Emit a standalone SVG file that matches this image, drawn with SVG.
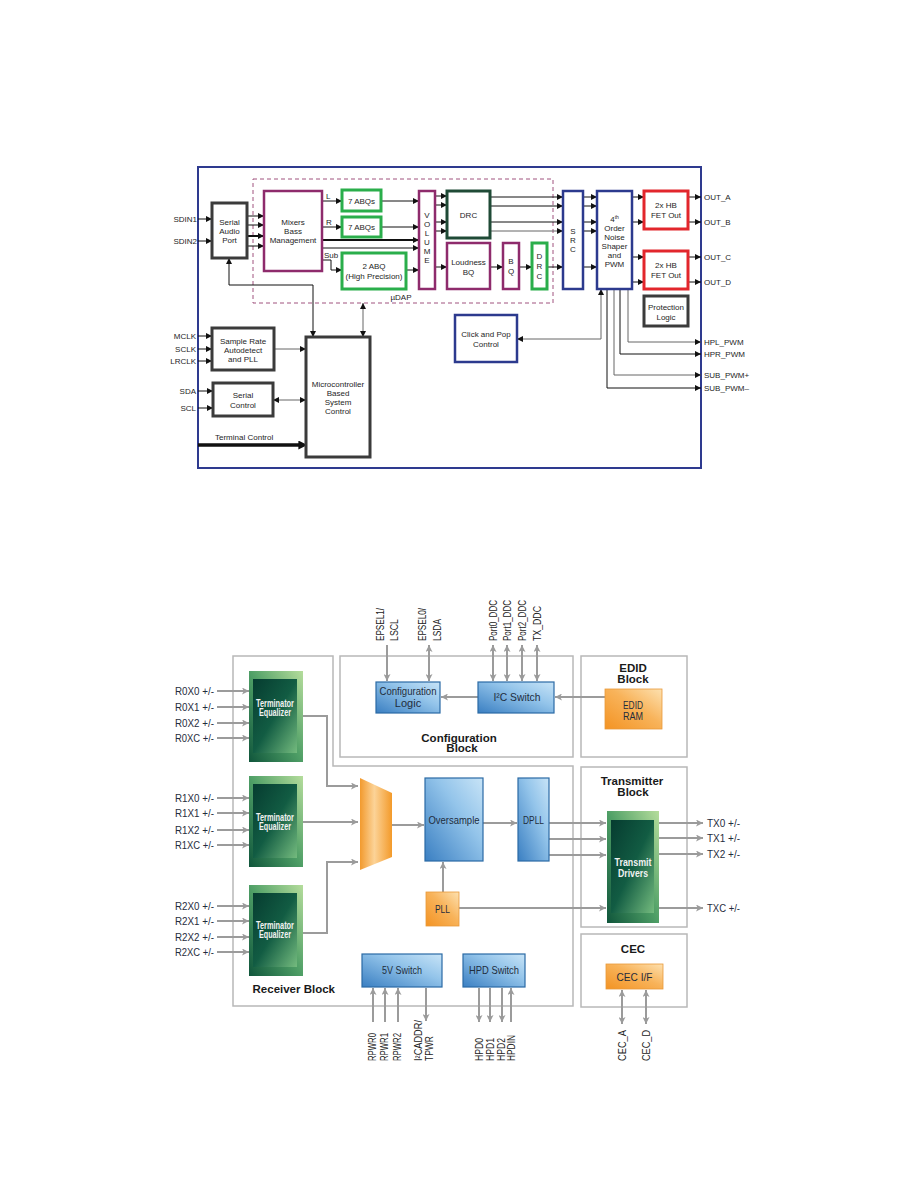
<svg xmlns="http://www.w3.org/2000/svg" width="918" height="1188" viewBox="0 0 918 1188">
<defs>
<style>
.t{font-family:"Liberation Sans",Arial,sans-serif;font-size:8px;fill:#1e1e1e}
.m{text-anchor:middle}
.r{text-anchor:end}
.pur{fill:#fff;stroke:#8e2b6c;stroke-width:2.5}
.grn{fill:#fff;stroke:#2aae4b;stroke-width:3}
.dgr{fill:#fff;stroke:#1f4a36;stroke-width:3}
.blu{fill:#fff;stroke:#2c3a8e;stroke-width:2.5}
.red{fill:#fff;stroke:#e2262c;stroke-width:3}
.gry{fill:#fff;stroke:#3b3b3b;stroke-width:3}
.ln{fill:none;stroke:#111;stroke-width:1}
.ln2{fill:none;stroke:#111;stroke-width:2}
.lg{fill:none;stroke:#666;stroke-width:1}
.a{marker-end:url(#k)}
.aa{marker-start:url(#k);marker-end:url(#k)}
.ol{fill:none;stroke:#b8b8b8;stroke-width:1.5}
.gl{fill:none;stroke:#9b9b9b;stroke-width:2}
.ga{marker-end:url(#g)}
.gaa{marker-start:url(#g);marker-end:url(#g)}
.n{font-family:"Liberation Sans",Arial,sans-serif;font-size:11px;fill:#1f2d3d}
.p{font-family:"Liberation Sans",Arial,sans-serif;font-size:10px;fill:#222}
.b{font-family:"Liberation Sans",Arial,sans-serif;font-size:11.5px;font-weight:bold;fill:#1a1a1a}
.w{font-family:"Liberation Sans",Arial,sans-serif;font-size:10px;font-weight:bold;fill:#f2f2f2}
.bb{fill:url(#blueG);stroke:#2b6aa5;stroke-width:1.2}
.ob{fill:url(#orG);stroke:#e89a3a;stroke-width:0.8}
</style>
<marker id="k" viewBox="0 0 10 10" refX="10" refY="5" markerWidth="6" markerHeight="6" markerUnits="userSpaceOnUse" orient="auto-start-reverse"><path d="M0,0 L10,5 L0,10 z" fill="#111"/></marker>
<marker id="kb" viewBox="0 0 10 10" refX="4" refY="5" markerWidth="10" markerHeight="9" markerUnits="userSpaceOnUse" orient="auto"><path d="M0,0 L10,5 L0,10 z" fill="#111"/></marker>
<marker id="g" viewBox="0 0 10 10" refX="10" refY="5" markerWidth="10" markerHeight="7" markerUnits="userSpaceOnUse" orient="auto-start-reverse"><path d="M0,0 L10,5 L0,10 L2.5,5 z" fill="#9b9b9b"/></marker>
<linearGradient id="blueG" x1="0" y1="1" x2="1" y2="0"><stop offset="0" stop-color="#3a7fc2"/><stop offset="0.6" stop-color="#93c4ea"/><stop offset="1" stop-color="#c8e4f7"/></linearGradient>
<linearGradient id="orG" x1="0" y1="1" x2="1" y2="0"><stop offset="0" stop-color="#f39323"/><stop offset="0.55" stop-color="#f8b35a"/><stop offset="1" stop-color="#fde1b0"/></linearGradient>
<linearGradient id="muxG" x1="0" y1="0" x2="1" y2="0"><stop offset="0" stop-color="#f29a2e"/><stop offset="0.45" stop-color="#fcd397"/><stop offset="1" stop-color="#f39a2a"/></linearGradient>
<linearGradient id="grnO" x1="1" y1="0" x2="0" y2="1"><stop offset="0" stop-color="#b5dd9c"/><stop offset="0.5" stop-color="#4f9f66"/><stop offset="1" stop-color="#0f553b"/></linearGradient>
<linearGradient id="grnI" x1="0" y1="0" x2="1" y2="1"><stop offset="0" stop-color="#063c30"/><stop offset="0.5" stop-color="#125c43"/><stop offset="1" stop-color="#74bb7e"/></linearGradient>
</defs>
<rect width="918" height="1188" fill="#fff"/>

<!-- ================= TOP DIAGRAM ================= -->
<g id="frame-top">
<rect x="198" y="167" width="503" height="301" fill="none" stroke="#2e3a8f" stroke-width="2"/>
<rect x="253" y="179" width="300" height="124" fill="none" stroke="#a0527f" stroke-width="1" stroke-dasharray="4,3"/>
<text class="t m" x="401" y="300">µDAP</text>
</g>

<g id="top-connectors">
<path class="ln a" d="M198,219H212"/>
<path class="ln a" d="M198,241H212"/>
<path class="ln a" d="M247,216H264"/>
<path class="ln a" d="M247,225H264"/>
<path class="ln2 a" d="M247,236H264"/>
<path class="ln a" d="M247,246H264"/>
<path class="ln a" d="M322,201H342"/>
<path class="ln a" d="M322,227H342"/>
<path class="ln a" d="M322,260H331V270H342"/>
<path class="ln2 a" d="M322,240H419"/>
<path class="ln a" d="M322,248H419"/>
<path class="ln a" d="M381,201H419"/>
<path class="ln a" d="M381,227H419"/>
<path class="ln a" d="M406,270H419"/>
<path class="ln a" d="M435,196H447"/>
<path class="ln a" d="M435,205H447"/>
<path class="ln a" d="M435,222H447"/>
<path class="ln a" d="M435,231H447"/>
<path class="ln a" d="M435,267H447"/>
<path class="ln a" d="M490,197H563"/>
<path class="ln a" d="M490,206H563"/>
<path class="ln a" d="M490,222H563"/>
<path class="lg a" d="M490,231H563"/>
<path class="ln a" d="M490,267H503"/>
<path class="ln a" d="M519,267H532"/>
<path class="ln a" d="M547,267H563"/>
<path class="ln a" d="M583,197H597"/>
<path class="ln a" d="M583,206H597"/>
<path class="ln a" d="M583,222H597"/>
<path class="ln a" d="M583,231H597"/>
<path class="ln a" d="M583,267H597"/>
<path class="ln a" d="M632,197H644"/>
<path class="ln a" d="M632,222H644"/>
<path class="ln a" d="M632,257H644"/>
<path class="ln a" d="M632,282H644"/>
<path class="ln a" d="M688,197H701"/>
<path class="ln a" d="M688,222H701"/>
<path class="ln a" d="M688,257H701"/>
<path class="ln a" d="M688,282H701"/>
<path class="lg aa" d="M517,339H601V289"/>
<path class="lg a" d="M628,289V342H701"/>
<path class="ln a" d="M620,289V354H701"/>
<path class="lg a" d="M614,289V375H701"/>
<path class="ln a" d="M607,289V388H701"/>
<path class="ln aa" d="M313,337V285H229V258"/>
<path class="lg aa" d="M363,303V337"/>
<path class="ln a" d="M198,336H212"/>
<path class="ln a" d="M198,349H212"/>
<path class="ln a" d="M198,361H212"/>
<path class="lg a" d="M274,349H306"/>
<path class="ln a" d="M198,391H213"/>
<path class="ln a" d="M198,408H213"/>
<path class="lg aa" d="M273,400H306"/>
<path d="M198,445H302" fill="none" stroke="#111" stroke-width="3.5" marker-end="url(#kb)"/>
</g>

<g id="top-labels">
<text class="t r" x="197" y="222">SDIN1</text>
<text class="t r" x="197" y="244">SDIN2</text>
<text class="t" x="326" y="199">L</text>
<text class="t" x="326" y="225">R</text>
<text class="t" x="324" y="258">Sub</text>
<text class="t r" x="196" y="339">MCLK</text>
<text class="t r" x="196" y="352">SCLK</text>
<text class="t r" x="196" y="364">LRCLK</text>
<text class="t r" x="196" y="394">SDA</text>
<text class="t r" x="196" y="411">SCL</text>
<text class="t" x="215" y="440">Terminal Control</text>
<text class="t" x="704" y="200">OUT_A</text>
<text class="t" x="704" y="225">OUT_B</text>
<text class="t" x="704" y="260">OUT_C</text>
<text class="t" x="704" y="285">OUT_D</text>
<text class="t" x="704" y="345">HPL_PWM</text>
<text class="t" x="704" y="357">HPR_PWM</text>
<text class="t" x="704" y="378">SUB_PWM+</text>
<text class="t" x="704" y="391">SUB_PWM–</text>
</g>

<g id="sap"><rect class="gry" x="212" y="203" width="35" height="55"/><text class="t m" x="229.5" y="225">Serial</text><text class="t m" x="229.5" y="234">Audio</text><text class="t m" x="229.5" y="243">Port</text></g>
<g id="mixers"><rect class="pur" x="264" y="191" width="58" height="80"/><text class="t m" x="293" y="225">Mixers</text><text class="t m" x="293" y="234">Bass</text><text class="t m" x="293" y="243">Management</text></g>
<g id="abq1"><rect class="grn" x="342" y="190" width="39" height="21"/><text class="t m" x="361.5" y="204">7 ABQs</text></g>
<g id="abq2"><rect class="grn" x="342" y="217" width="39" height="20"/><text class="t m" x="361.5" y="230">7 ABQs</text></g>
<g id="abq3"><rect class="grn" x="342" y="253" width="64" height="36"/><text class="t m" x="374" y="269">2 ABQ</text><text class="t m" x="374" y="279">(High Precision)</text></g>
<g id="volume"><rect class="pur" x="419" y="191" width="16" height="98"/>
<text class="t m" x="427" y="218">V</text><text class="t m" x="427" y="227">O</text><text class="t m" x="427" y="236">L</text><text class="t m" x="427" y="245">U</text><text class="t m" x="427" y="254">M</text><text class="t m" x="427" y="263">E</text></g>
<g id="drc"><rect class="dgr" x="447" y="191" width="43" height="47"/><text class="t m" x="468.5" y="218">DRC</text></g>
<g id="loudness"><rect class="pur" x="447" y="243" width="43" height="46"/><text class="t m" x="468.5" y="265">Loudness</text><text class="t m" x="468.5" y="275">BQ</text></g>
<g id="bq"><rect class="pur" x="503" y="243" width="16" height="46"/><text class="t m" x="511" y="264">B</text><text class="t m" x="511" y="274">Q</text></g>
<g id="drc2"><rect class="grn" x="532" y="243" width="15" height="46"/><text class="t m" x="539.5" y="259">D</text><text class="t m" x="539.5" y="269">R</text><text class="t m" x="539.5" y="279">C</text></g>
<g id="src"><rect class="blu" x="563" y="191" width="20" height="98"/><text class="t m" x="573" y="234">S</text><text class="t m" x="573" y="243">R</text><text class="t m" x="573" y="252">C</text></g>
<g id="noise"><rect class="blu" x="597" y="191" width="35" height="98"/>
<text class="t m" x="614.5" y="222">4<tspan font-size="5" dy="-3">th</tspan></text>
<text class="t m" x="614.5" y="231">Order</text><text class="t m" x="614.5" y="240">Noise</text><text class="t m" x="614.5" y="249">Shaper</text><text class="t m" x="614.5" y="258">and</text><text class="t m" x="614.5" y="267">PWM</text></g>
<g id="fet1"><rect class="red" x="644" y="191" width="44" height="38"/><text class="t m" x="666" y="208">2x HB</text><text class="t m" x="666" y="218">FET Out</text></g>
<g id="fet2"><rect class="red" x="644" y="251" width="44" height="38"/><text class="t m" x="666" y="268">2x HB</text><text class="t m" x="666" y="278">FET Out</text></g>
<g id="protection"><rect class="gry" x="644" y="296" width="44" height="30"/><text class="t m" x="666" y="310">Protection</text><text class="t m" x="666" y="320">Logic</text></g>
<g id="clickpop"><rect class="blu" x="455" y="315" width="62" height="47"/><text class="t m" x="486" y="337">Click and Pop</text><text class="t m" x="486" y="347">Control</text></g>
<g id="samplerate"><rect class="gry" x="212" y="328" width="62" height="42"/><text class="t m" x="243" y="344">Sample Rate</text><text class="t m" x="243" y="353">Autodetect</text><text class="t m" x="243" y="362">and PLL</text></g>
<g id="serialctl"><rect class="gry" x="213" y="383" width="60" height="33"/><text class="t m" x="243" y="398">Serial</text><text class="t m" x="243" y="408">Control</text></g>
<g id="mcu"><rect class="gry" x="306" y="337" width="64" height="120"/><text class="t m" x="338" y="387">Microcontroller</text><text class="t m" x="338" y="396">Based</text><text class="t m" x="338" y="405">System</text><text class="t m" x="338" y="414">Control</text></g>

<!-- ================= BOTTOM DIAGRAM ================= -->
<g id="blocks">
<path class="ol" d="M233,656H333V766H573V1006H233Z"/>
<rect class="ol" x="340" y="656" width="233" height="101"/>
<rect class="ol" x="581" y="656" width="106" height="101"/>
<rect class="ol" x="581" y="767" width="106" height="160"/>
<rect class="ol" x="581" y="934" width="106" height="73"/>
<text class="b m" x="459" y="742">Configuration</text>
<text class="b m" x="462" y="752">Block</text>
<text class="b m" x="633" y="672">EDID</text>
<text class="b m" x="633" y="683">Block</text>
<text class="b m" x="632" y="785">Transmitter</text>
<text class="b m" x="633" y="796">Block</text>
<text class="b m" x="633" y="953">CEC</text>
<text class="b r" x="335" y="993">Receiver Block</text>
</g>

<g id="bottom-connectors">
<path class="gl ga" d="M217,691H249"/>
<path class="gl ga" d="M217,707H249"/>
<path class="gl ga" d="M217,723H249"/>
<path class="gl ga" d="M217,738H249"/>
<path class="gl ga" d="M217,798H249"/>
<path class="gl ga" d="M217,813H249"/>
<path class="gl ga" d="M217,830H249"/>
<path class="gl ga" d="M217,845H249"/>
<path class="gl ga" d="M217,906H249"/>
<path class="gl ga" d="M217,921H249"/>
<path class="gl ga" d="M217,937H249"/>
<path class="gl ga" d="M217,952H249"/>
<path class="gl ga" d="M303,716H327V786H358"/>
<path class="gl ga" d="M303,822H358"/>
<path class="gl ga" d="M303,933H327V862H358"/>
<path class="gl ga" d="M392,825H424"/>
<path class="gl ga" d="M483,823H517"/>
<path class="gl ga" d="M549,823H606"/>
<path class="gl ga" d="M549,839H606"/>
<path class="gl ga" d="M549,855H606"/>
<path class="gl ga" d="M443,892V862"/>
<path class="gl ga" d="M459,908H606"/>
<path class="gl ga" d="M659,823H703"/>
<path class="gl ga" d="M659,838H703"/>
<path class="gl ga" d="M659,854H703"/>
<path class="gl ga" d="M659,908H703"/>
<path class="gl ga" d="M605,697H555"/>
<path class="gl ga" d="M478,697H441"/>
<path class="gl ga" d="M387,645V681"/>
<path class="gl gaa" d="M429,645V681"/>
<path class="gl gaa" d="M493,645V681"/>
<path class="gl gaa" d="M507,645V681"/>
<path class="gl gaa" d="M522,645V681"/>
<path class="gl gaa" d="M537,645V681"/>
<path class="gl ga" d="M373,1022V988"/>
<path class="gl ga" d="M385,1022V988"/>
<path class="gl ga" d="M398,1022V988"/>
<path class="gl ga" d="M426,988V1021"/>
<path class="gl ga" d="M479,988V1022"/>
<path class="gl ga" d="M490,988V1022"/>
<path class="gl ga" d="M502,988V1022"/>
<path class="gl ga" d="M511,1022V988"/>
<path class="gl gaa" d="M622,990V1024"/>
<path class="gl gaa" d="M646,990V1024"/>
</g>

<g id="pin-labels">
<text class="n" x="175" y="695" textLength="39" lengthAdjust="spacingAndGlyphs">R0X0 +/-</text>
<text class="n" x="175" y="711" textLength="39" lengthAdjust="spacingAndGlyphs">R0X1 +/-</text>
<text class="n" x="175" y="727" textLength="39" lengthAdjust="spacingAndGlyphs">R0X2 +/-</text>
<text class="n" x="175" y="742" textLength="39" lengthAdjust="spacingAndGlyphs">R0XC +/-</text>
<text class="n" x="175" y="802" textLength="39" lengthAdjust="spacingAndGlyphs">R1X0 +/-</text>
<text class="n" x="175" y="817" textLength="39" lengthAdjust="spacingAndGlyphs">R1X1 +/-</text>
<text class="n" x="175" y="834" textLength="39" lengthAdjust="spacingAndGlyphs">R1X2 +/-</text>
<text class="n" x="175" y="849" textLength="39" lengthAdjust="spacingAndGlyphs">R1XC +/-</text>
<text class="n" x="175" y="910" textLength="39" lengthAdjust="spacingAndGlyphs">R2X0 +/-</text>
<text class="n" x="175" y="925" textLength="39" lengthAdjust="spacingAndGlyphs">R2X1 +/-</text>
<text class="n" x="175" y="941" textLength="39" lengthAdjust="spacingAndGlyphs">R2X2 +/-</text>
<text class="n" x="175" y="956" textLength="39" lengthAdjust="spacingAndGlyphs">R2XC +/-</text>
<text class="n" x="707" y="827" textLength="33" lengthAdjust="spacingAndGlyphs">TX0 +/-</text>
<text class="n" x="707" y="842" textLength="33" lengthAdjust="spacingAndGlyphs">TX1 +/-</text>
<text class="n" x="707" y="858" textLength="33" lengthAdjust="spacingAndGlyphs">TX2 +/-</text>
<text class="n" x="707" y="912" textLength="33" lengthAdjust="spacingAndGlyphs">TXC +/-</text>
<text class="p" transform="translate(384,641) rotate(-90)" textLength="33" lengthAdjust="spacingAndGlyphs">EPSEL1/</text>
<text class="p" transform="translate(398,641) rotate(-90)" textLength="22" lengthAdjust="spacingAndGlyphs">LSCL</text>
<text class="p" transform="translate(426,641) rotate(-90)" textLength="33" lengthAdjust="spacingAndGlyphs">EPSEL0/</text>
<text class="p" transform="translate(441,641) rotate(-90)" textLength="22" lengthAdjust="spacingAndGlyphs">LSDA</text>
<text class="p" transform="translate(497,641) rotate(-90)" textLength="41" lengthAdjust="spacingAndGlyphs">Port0_DDC</text>
<text class="p" transform="translate(511,641) rotate(-90)" textLength="41" lengthAdjust="spacingAndGlyphs">Port1_DDC</text>
<text class="p" transform="translate(526,641) rotate(-90)" textLength="41" lengthAdjust="spacingAndGlyphs">Port2_DDC</text>
<text class="p" transform="translate(541,641) rotate(-90)" textLength="35" lengthAdjust="spacingAndGlyphs">TX_DDC</text>
<text class="p" transform="translate(376,1061) rotate(-90)" textLength="28" lengthAdjust="spacingAndGlyphs">RPWR0</text>
<text class="p" transform="translate(388,1061) rotate(-90)" textLength="28" lengthAdjust="spacingAndGlyphs">RPWR1</text>
<text class="p" transform="translate(401,1061) rotate(-90)" textLength="28" lengthAdjust="spacingAndGlyphs">RPWR2</text>
<text class="p" transform="translate(422,1061) rotate(-90)" textLength="41" lengthAdjust="spacingAndGlyphs">I²CADDR/</text>
<text class="p" transform="translate(433,1061) rotate(-90)" textLength="25" lengthAdjust="spacingAndGlyphs">TPWR</text>
<text class="p" transform="translate(483,1061) rotate(-90)" textLength="23" lengthAdjust="spacingAndGlyphs">HPD0</text>
<text class="p" transform="translate(494,1061) rotate(-90)" textLength="23" lengthAdjust="spacingAndGlyphs">HPD1</text>
<text class="p" transform="translate(505,1061) rotate(-90)" textLength="23" lengthAdjust="spacingAndGlyphs">HPD2</text>
<text class="p" transform="translate(515,1061) rotate(-90)" textLength="26" lengthAdjust="spacingAndGlyphs">HPDIN</text>
<text class="p" transform="translate(626,1061) rotate(-90)" textLength="31" lengthAdjust="spacingAndGlyphs">CEC_A</text>
<text class="p" transform="translate(650,1061) rotate(-90)" textLength="31" lengthAdjust="spacingAndGlyphs">CEC_D</text>
</g>

<g id="term-eq-0"><rect x="249" y="671" width="54" height="91" fill="url(#grnO)"/><rect x="253" y="679" width="44" height="74" fill="url(#grnI)"/><text class="w m" x="275" y="707" textLength="38" lengthAdjust="spacingAndGlyphs">Terminator</text><text class="w m" x="275" y="716" textLength="32" lengthAdjust="spacingAndGlyphs">Equalizer</text></g>
<g id="term-eq-1"><rect x="249" y="776" width="54" height="91" fill="url(#grnO)"/><rect x="253" y="784" width="44" height="74" fill="url(#grnI)"/><text class="w m" x="275" y="821" textLength="38" lengthAdjust="spacingAndGlyphs">Terminator</text><text class="w m" x="275" y="830" textLength="32" lengthAdjust="spacingAndGlyphs">Equalizer</text></g>
<g id="term-eq-2"><rect x="249" y="885" width="54" height="91" fill="url(#grnO)"/><rect x="253" y="893" width="44" height="74" fill="url(#grnI)"/><text class="w m" x="275" y="929" textLength="38" lengthAdjust="spacingAndGlyphs">Terminator</text><text class="w m" x="275" y="938" textLength="32" lengthAdjust="spacingAndGlyphs">Equalizer</text></g>
<g id="mux"><polygon points="360,778 392,793 392,857 360,870" fill="url(#muxG)"/></g>
<g id="config-logic"><rect class="bb" x="376" y="682" width="64" height="31"/><text class="n m" x="408" y="695" textLength="57" lengthAdjust="spacingAndGlyphs">Configuration</text><text class="n m" x="408" y="707">Logic</text></g>
<g id="i2c-switch"><rect class="bb" x="478" y="682" width="76" height="31"/><text class="n m" x="517" y="701" textLength="47" lengthAdjust="spacingAndGlyphs">I²C Switch</text></g>
<g id="edid-ram"><rect class="ob" x="605" y="689" width="57" height="40"/><text class="n m" x="633" y="709" textLength="20" lengthAdjust="spacingAndGlyphs">EDID</text><text class="n m" x="633" y="720" textLength="20" lengthAdjust="spacingAndGlyphs">RAM</text></g>
<g id="oversample"><rect class="bb" x="425" y="778" width="58" height="83"/><text class="n m" x="454" y="824" textLength="51" lengthAdjust="spacingAndGlyphs">Oversample</text></g>
<g id="dpll"><rect class="bb" x="518" y="778" width="31" height="83"/><text class="n m" x="533.5" y="824" textLength="21" lengthAdjust="spacingAndGlyphs">DPLL</text></g>
<g id="pll"><rect class="ob" x="426" y="892" width="33" height="34"/><text class="n m" x="442.5" y="913" textLength="15" lengthAdjust="spacingAndGlyphs">PLL</text></g>
<g id="transmit-drivers"><rect x="607" y="811" width="52" height="112" fill="url(#grnO)"/><rect x="611" y="820" width="43" height="93" fill="url(#grnI)"/><text class="w m" x="633" y="866" font-size="11" textLength="37" lengthAdjust="spacingAndGlyphs">Transmit</text><text class="w m" x="633" y="877" font-size="11" textLength="30" lengthAdjust="spacingAndGlyphs">Drivers</text></g>
<g id="cec-if"><rect class="ob" x="606" y="964" width="57" height="25"/><text class="n m" x="634.5" y="981" textLength="36" lengthAdjust="spacingAndGlyphs">CEC I/F</text></g>
<g id="sw5v"><rect class="bb" x="362" y="954" width="80" height="33"/><text class="n m" x="402" y="974" textLength="40" lengthAdjust="spacingAndGlyphs">5V Switch</text></g>
<g id="hpd-switch"><rect class="bb" x="463" y="954" width="62" height="33"/><text class="n m" x="494" y="974" textLength="50" lengthAdjust="spacingAndGlyphs">HPD Switch</text></g>
</svg>
